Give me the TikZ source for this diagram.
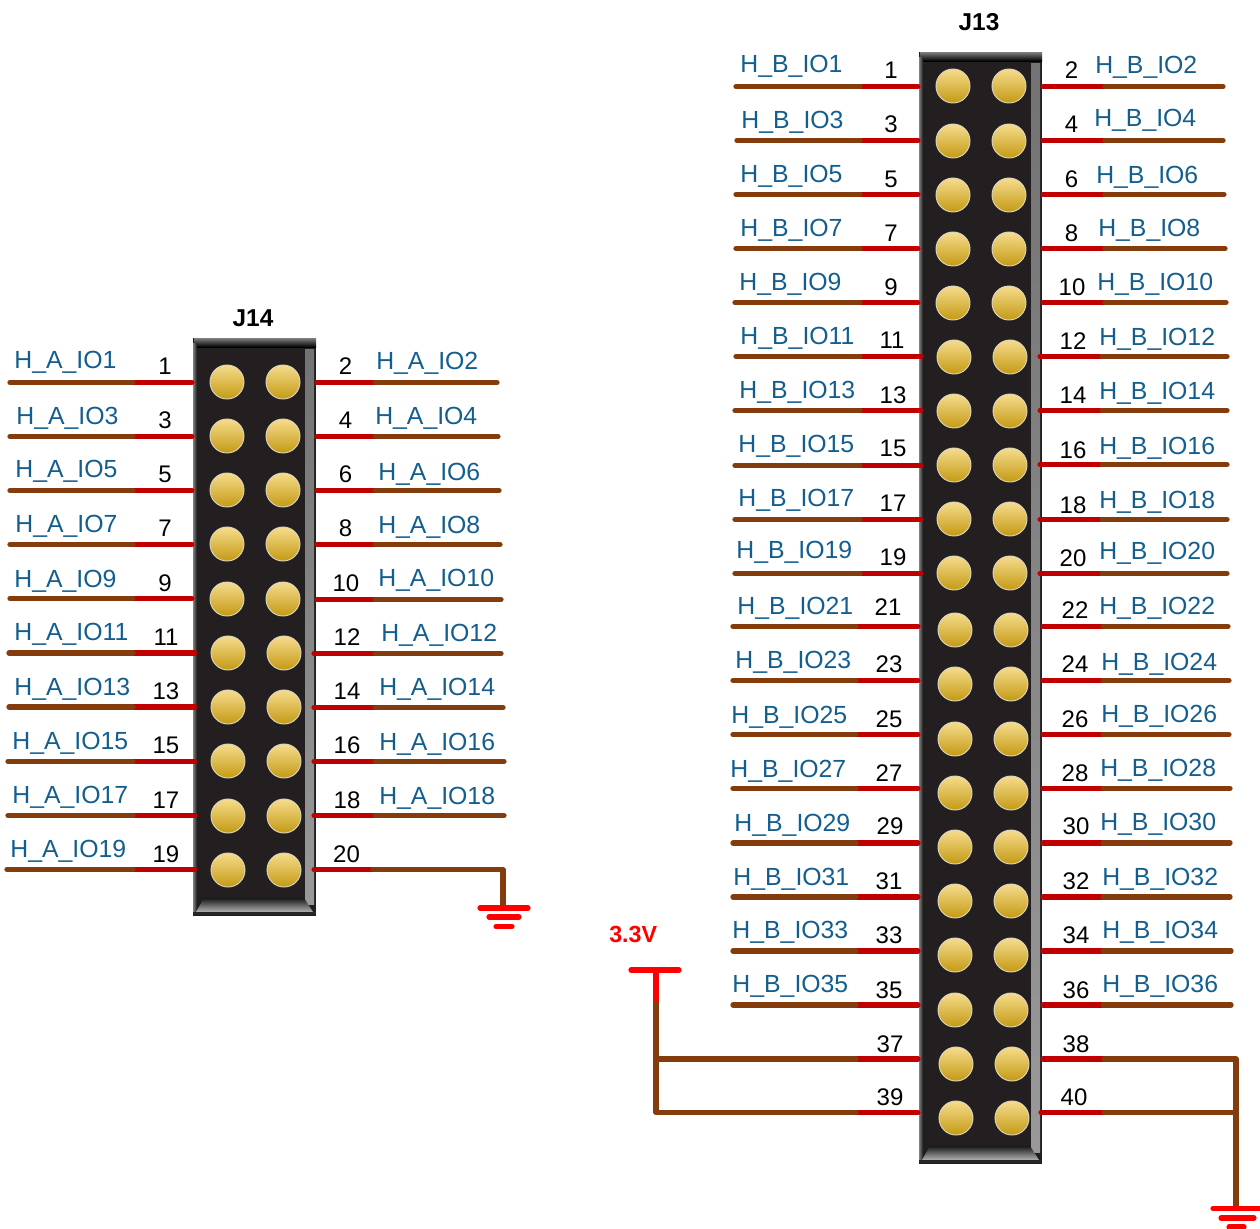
\documentclass[tikz,border=0pt]{standalone}
\usepackage{fontspec}
\setmainfont{Liberation Sans}
\definecolor{wirebrown}{HTML}{843C0C}
\definecolor{wirered}{HTML}{C00000}
\definecolor{pwrred}{HTML}{FF0000}
\definecolor{netblue}{HTML}{135E8E}
\definecolor{hdrdark}{HTML}{231F20}
\definecolor{padrim}{HTML}{DDD6BC}
\definecolor{padtop}{HTML}{F6DC8C}
\definecolor{padbot}{HTML}{C49A14}
\tikzset{
  brownwire/.style={draw=wirebrown,line width=4pt,line cap=round,line join=round},
  redwire/.style={draw=wirered,line width=3.9pt,line cap=round},
  pwrbar/.style={draw=pwrred,line width=3.9pt,line cap=round},
  netlabel/.style={anchor=base west,inner sep=0pt,text=netblue,font=\fontsize{18.6}{20}\selectfont},
  leftlabel/.style={netlabel,xshift=-0.6pt},
  pinnum/.style={anchor=base,inner sep=0pt,text=black,font=\fontsize{18}{20}\selectfont},
  reftitle/.style={anchor=base,inner sep=0pt,text=black,font=\fontsize{18.3}{20}\selectfont\bfseries},
  padnode/.style={circle,draw=padrim,line width=0.7pt,top color=padtop,bottom color=padbot,minimum size=25.5pt,inner sep=0pt},
}
% header body: left, top, right, bottom
\newcommand{\hdrbody}[4]{%
  \fill[black!88] (#1,#2) rectangle (#3,#4);
  \fill[hdrdark] (#1+4,#2+10) rectangle (#3-11,#4-18);
  \shade[top color=black!50,bottom color=black] (#1+1,#2) rectangle (#3,#2+9);
  \shade[left color=black!50,right color=black!90] (#1,#2+5) rectangle (#1+4,#4-3);
  \shade[top color=black!55,bottom color=black!40] (#3-11,#2+11) rectangle (#3-2,#4-12);
  \shade[top color=black!90,bottom color=black!30] (#1+3,#4-4) -- (#1+11,#4-18) -- (#3-12,#4-18) -- (#3-3,#4-4) -- cycle;
  \fill[black!85] (#1,#4-4) rectangle (#3,#4-1);
}
\begin{document}
\begin{tikzpicture}[x=0.75pt,y=-0.75pt]
\useasboundingbox (0,0) rectangle (1260,1228);

% ---------- J14 ----------
\hdrbody{193}{338}{316}{916}
\node[reftitle] (j14) at (253,326.5) {J14};
\foreach \n/\xa/\xb/\yy in {1/227/283/382,3/227/283/436,5/227/283/490,7/227/283/544,9/227/283/599,11/228/284/653,13/228/284/707,15/228/284/761,17/228/284/816,19/228/284/870}{
  \node[padnode] (pa\n) at (\xa,\yy) {};
  \node[padnode] (pb\n) at (\xb,\yy) {};
}
% pin, lx, ly, nx, ny, x0, xm, xe, y
\foreach \n/\lx/\ly/\nx/\ny/\a/\b/\c/\w in {
 1/15/368/165/374/10/133/192/382.5,
 3/17/424/165/428/10/133/192/436.5,
 5/16/477/165/482/10/133/192/490.5,
 7/16/532/165/536/10/133/192/544.5,
 9/15/587/165/591/10/133/192/598.5,
 11/15/640/166/645/9/133/195/653,
 13/15/695/166/699/9/133/195/707,
 15/13/749/166/753/8/133/195/761.5,
 17/13/803/166/808/8/133/195/815.5,
 19/11/857/166/862/7/133/195/869.5}{
  \coordinate (wa\n) at (\a,\w);
  \coordinate (wb\n) at (\b,\w);
  \coordinate (wc\n) at (\c,\w);
  \draw[redwire] (wb\n) -- (wc\n);
  \draw[brownwire] (wa\n) -- (wb\n);
  \node[leftlabel] (la\n) at (\lx,\ly) {H\_A\_IO\n};
  \node[pinnum] (na\n) at (\nx,\ny) {\n};
}
\foreach \n/\lx/\ly/\nx/\ny/\a/\b/\c/\w in {
 2/376/369/345.5/374/317/375/497/382.5,
 4/375/424/345.5/428/317/375/498/436.5,
 6/378/480/345.5/482/317/375/499/490.5,
 8/378/533/345.5/536/317/375/500/544.5,
 10/378/586/346/591/317/375/501/599.5,
 12/381/641/347/645/314/375/501/653.5,
 14/379/695/347/699/314/375/503/707.5,
 16/379/750/347/753/314/375/504/761.5,
 18/379/804/347/808/314/375/504/815.5}{
  \coordinate (wa\n) at (\a,\w);
  \coordinate (wb\n) at (\b,\w);
  \coordinate (wc\n) at (\c,\w);
  \draw[redwire] (wa\n) -- (wb\n);
  \draw[brownwire] (wb\n) -- (wc\n);
  \node[netlabel] (la\n) at (\lx,\ly) {H\_A\_IO\n};
  \node[pinnum] (na\n) at (\nx,\ny) {\n};
}
% pin 20 to ground
\coordinate (g14a) at (314,869.5);
\coordinate (g14b) at (373,869.5);
\coordinate (g14c) at (503,869.5);
\coordinate (g14d) at (503,907);
\draw[redwire] (g14a) -- (g14b);
\draw[brownwire] (g14b) -- (g14c) -- (g14d);
\node[pinnum] (na20) at (346.5,862) {20};
\draw[pwrbar] (480,908) -- (528,908);
\draw[pwrbar] (489,917) -- (519,917);
\draw[pwrbar] (496,926.5) -- (512,926.5);

% ---------- J13 ----------
\hdrbody{919}{52}{1042}{1164}
\node[reftitle] (j13) at (979,30.5) {J13};
\foreach \n/\xa/\yy in {1/953/86,2/953/141,3/953/195,4/953/249,5/953/303,6/954/357,7/954/411,8/954/465,9/954/519,10/954/573,11/955/630,12/955/684,13/955/739,14/955/793,15/955/847,16/955/901,17/955/955,18/955/1010,19/956/1064,20/956/1118}{
  \pgfmathtruncatemacro{\xb}{\xa+56}
  \node[padnode] (qa\n) at (\xa,\yy) {};
  \node[padnode] (qb\n) at (\xb,\yy) {};
}
\foreach \n/\lx/\ly/\nx/\ny/\a/\b/\c/\w in {
 1/741/72/891/78/736/860/918/86.5,
 3/742/128/891/132/737/860/918/140.5,
 5/741/182/891/187/736/860/918/194.5,
 7/741/236/891/241/736/860/918/248.5,
 9/740/290/891/295/735/860/918/302.5,
 11/741/344/892/348/736/860/921/356.5,
 13/740/398/893/403/735/860/921/410.5,
 15/739/452/893/456/735/860/921/465.5,
 17/739/506/893/511/735/860/921/519.5,
 19/737/558/893/565/735/860/921/573.5,
 21/738/614/888/615/733/856/918/626.5,
 23/736/668/889/672/733/856/918/680.5,
 25/732/723/889/727/733/856/918/734.5,
 27/731/777/889/781/733/856/918/788.5,
 29/735/831/890/834/733/856/918/843,
 31/734/885/889/889/733/856/918/897,
 33/733/938/889/943/733/856/918/951,
 35/733/992/889/998/733/856/918/1005}{
  \coordinate (xa\n) at (\a,\w);
  \coordinate (xb\n) at (\b,\w);
  \coordinate (xc\n) at (\c,\w);
  \draw[redwire] (xb\n) -- (xc\n);
  \draw[brownwire] (xa\n) -- (xb\n);
  \node[leftlabel] (lb\n) at (\lx,\ly) {H\_B\_IO\n};
  \node[pinnum] (nb\n) at (\nx,\ny) {\n};
}
\foreach \n/\lx/\ly/\nx/\ny/\a/\b/\c/\w in {
 2/1095/73/1071.5/78/1043/1105/1223/86.5,
 4/1094/126/1071.5/132/1043/1105/1223/140.5,
 6/1096/183/1071.5/187/1043/1105/1224/194.5,
 8/1098/236/1071.5/241/1043/1105/1225/248.5,
 10/1097/290/1072/295/1043/1105/1226/302.5,
 12/1099/345/1073/349/1040/1102/1227/356.5,
 14/1099/399/1073/403/1040/1102/1227/410.5,
 16/1099/454/1073/458/1040/1102/1227/464.5,
 18/1099/508/1073/513/1040/1102/1227/519.5,
 20/1099/559/1073/566/1040/1102/1227/573.5,
 22/1099/614/1075/618/1043/1103/1228/626.5,
 24/1101/670/1075/672/1043/1103/1229/680.5,
 26/1101/722/1075/727/1043/1103/1229/734.5,
 28/1100/776/1075/781/1043/1103/1230/788.5,
 30/1100/830/1076/834/1043/1103/1230/843,
 32/1102/885/1076/889/1043/1103/1230/897,
 34/1102/938/1076/943/1043/1103/1231/951,
 36/1102/992/1076/998/1043/1103/1231/1005}{
  \coordinate (xa\n) at (\a,\w);
  \coordinate (xb\n) at (\b,\w);
  \coordinate (xc\n) at (\c,\w);
  \draw[redwire] (xa\n) -- (xb\n);
  \draw[brownwire] (xb\n) -- (xc\n);
  \node[netlabel] (lb\n) at (\lx,\ly) {H\_B\_IO\n};
  \node[pinnum] (nb\n) at (\nx,\ny) {\n};
}
% 3.3V rail to pins 37, 39
\node[anchor=base west,inner sep=0pt,text=pwrred,font=\fontsize{17.5}{20}\selectfont\bfseries] (v33) at (609,942.5) {3.3V};
\coordinate (vbarl) at (631,970);
\coordinate (vbarr) at (679,970);
\coordinate (vtop) at (656,970);
\coordinate (vmid) at (656,1003);
\coordinate (vj37) at (656,1059);
\coordinate (vbot) at (656,1112.5);
\coordinate (p37b) at (856,1059);
\coordinate (p37c) at (918,1059);
\coordinate (p39b) at (856,1112.5);
\coordinate (p39c) at (918,1112.5);
\draw[pwrbar] (vbarl) -- (vbarr);
\draw[pwrbar,line cap=butt] (vtop) -- (vmid);
\draw[redwire] (p37b) -- (p37c);
\draw[redwire] (p39b) -- (p39c);
\draw[brownwire] (vmid) -- (vbot) -- (p39b);
\draw[brownwire] (vj37) -- (p37b);
\node[pinnum] (nb37) at (890,1052) {37};
\node[pinnum] (nb39) at (890,1105) {39};
% pins 38, 40 to ground
\coordinate (p38a) at (1043,1059);
\coordinate (p38b) at (1104,1059);
\coordinate (p40a) at (1041,1112.5);
\coordinate (p40b) at (1104,1112.5);
\coordinate (gtop) at (1236,1059);
\coordinate (gj40) at (1236,1112.5);
\coordinate (gbot) at (1236,1207);
\draw[redwire] (p38a) -- (p38b);
\draw[redwire] (p40a) -- (p40b);
\draw[brownwire] (p38b) -- (gtop) -- (gbot);
\draw[brownwire] (p40b) -- (gj40);
\node[pinnum] (nb38) at (1076,1052) {38};
\node[pinnum] (nb40) at (1074,1105) {40};
\draw[pwrbar] (1213,1208.5) -- (1262,1208.5);
\draw[pwrbar] (1221,1218) -- (1254,1218);
\draw[pwrbar] (1229,1227) -- (1244,1227);
\end{tikzpicture}
\end{document}
